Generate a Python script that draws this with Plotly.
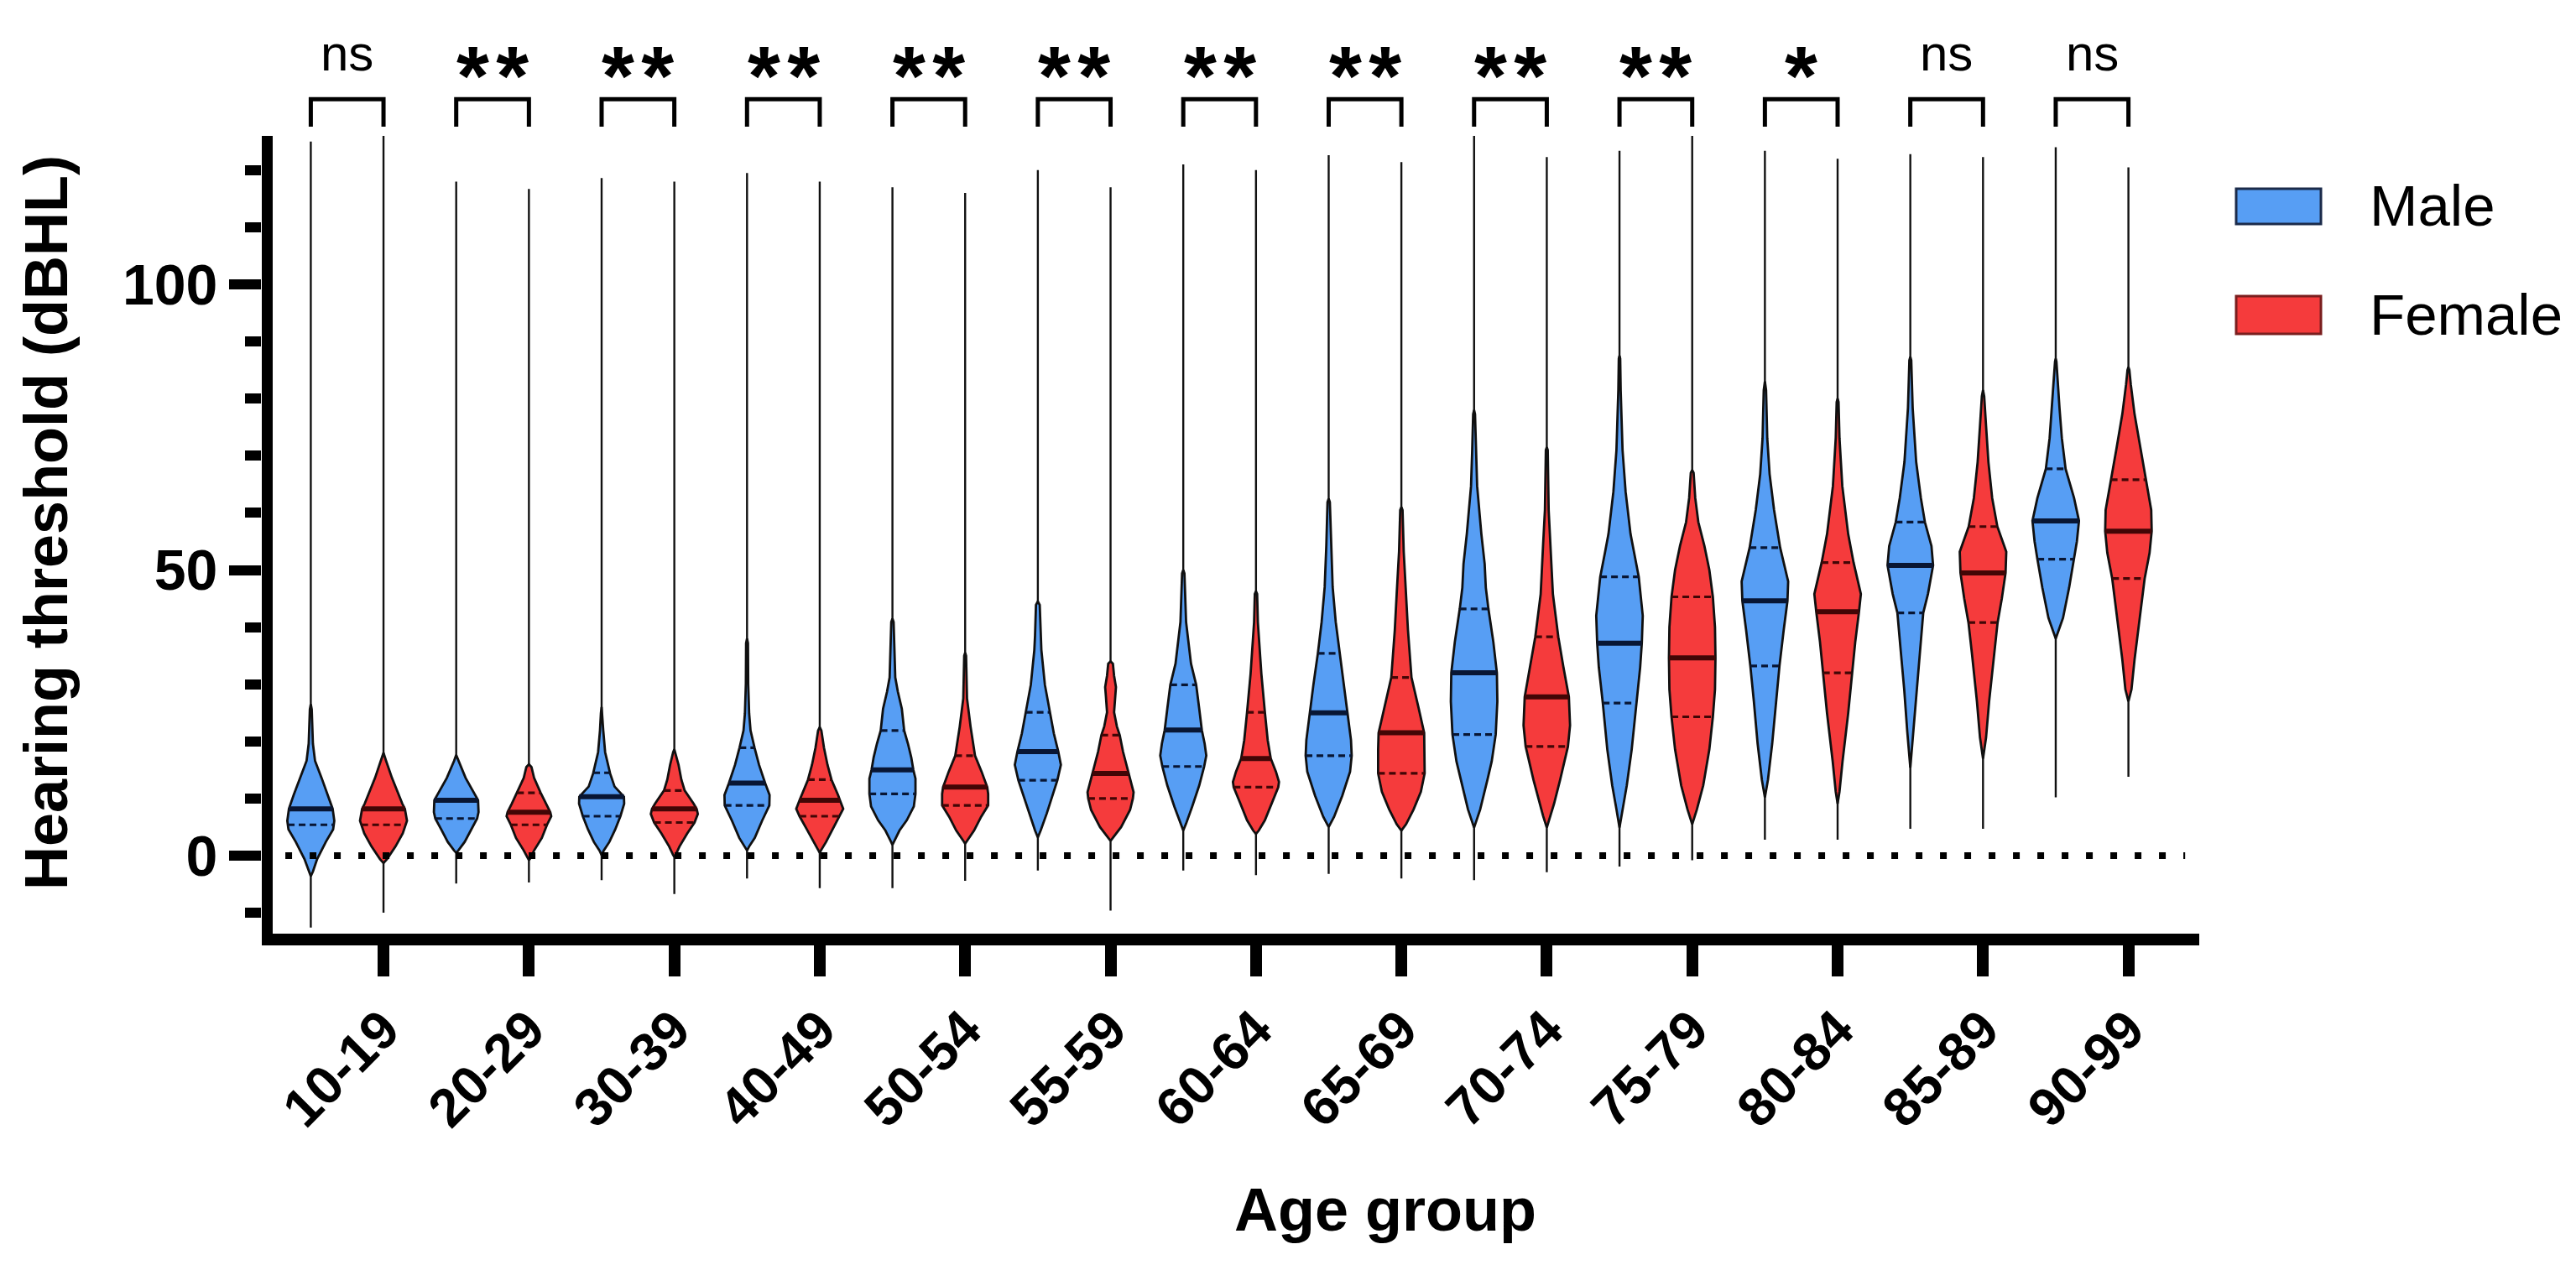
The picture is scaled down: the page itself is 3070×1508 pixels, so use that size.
import numpy as np
import plotly.graph_objects as go

# ---------------- data ----------------
age_groups = ["10-19", "20-29", "30-39", "40-49", "50-54", "55-59", "60-64",
              "65-69", "70-74", "75-79", "80-84", "85-89", "90-99"]
significance = ["ns", "**", "**", "**", "**", "**", "**", "**", "**", "**", "*", "ns", "ns"]

male_median = [8.2, 9.7, 10.3, 12.7, 15.0, 18.2, 22.0, 25.0, 32.0, 37.2, 44.6, 50.8, 58.6]
male_q1 = [5.4, 6.5, 6.9, 8.8, 10.8, 13.2, 15.6, 17.5, 21.2, 26.7, 33.2, 42.5, 51.9]
male_q3 = [8.2, 9.7, 14.5, 18.9, 21.9, 25.1, 29.9, 35.4, 43.2, 48.8, 53.9, 58.4, 67.7]
male_min = [-12.6, -4.9, -4.3, -4.0, -5.7, -2.6, -2.6, -3.2, -4.3, -1.9, 2.8, 4.7, 10.2]
male_max = [125.0, 118.0, 118.6, 119.5, 117.0, 120.0, 121.0, 122.6, 126.0, 123.4, 123.4, 122.8, 124.0]

female_median = [8.2, 7.6, 8.2, 9.7, 12.0, 14.4, 17.0, 21.5, 27.8, 34.6, 42.7, 49.5, 56.8]
female_q1 = [5.4, 5.4, 5.8, 6.9, 8.8, 10.0, 12.0, 14.4, 19.1, 24.3, 32.0, 40.8, 48.5]
female_q3 = [8.2, 11.0, 11.4, 13.3, 17.5, 21.1, 25.1, 31.2, 38.3, 45.3, 51.3, 57.6, 65.8]
female_min = [-10.0, -4.7, -6.7, -5.7, -4.4, -9.6, -3.4, -4.0, -2.9, -0.8, 2.8, 4.7, 13.8]
female_max = [126.0, 116.7, 118.0, 118.0, 116.0, 117.0, 120.0, 121.4, 122.3, 126.0, 122.0, 122.3, 120.5]

# violin outlines: threshold levels (dBHL) and relative density (1 = widest)
male_levels = [
    [-3.6, -2.8, -0.6, 2.4, 4.6, 6.1, 8.2, 10.6, 13.6, 16.6, 19.6, 25.6, 26.5],
    [0.5, 0.9, 2.4, 4.6, 6.5, 7.6, 9.7, 13.6, 16.6, 17.2, 17.6],
    [0.1, 0.9, 2.4, 4.6, 6.9, 9.1, 10.3, 12.1, 14.4, 18.1, 21.9, 25.0, 26.0],
    [0.9, 1.6, 3.1, 6.1, 8.8, 10.6, 12.7, 15.9, 18.9, 21.9, 24.9, 30.1, 37.2, 38.0],
    [1.9, 2.6, 4.4, 6.2, 8.6, 10.8, 13.5, 15.0, 17.2, 19.6, 21.9, 25.7, 28.7, 31.2, 40.9, 41.5],
    [3.2, 4.4, 7.4, 10.5, 13.2, 15.9, 18.2, 21.4, 25.1, 29.9, 36.0, 38.5, 43.9, 44.5],
    [4.4, 5.6, 8.6, 12.3, 15.6, 17.5, 19.6, 22.0, 25.7, 29.9, 33.6, 40.9, 49.4, 50.0],
    [5.0, 6.8, 10.5, 14.7, 17.5, 20.2, 25.0, 29.9, 35.4, 40.9, 47.0, 54.3, 61.9, 62.5],
    [4.9, 8.1, 13.3, 16.5, 21.2, 27.0, 32.0, 37.4, 43.2, 46.9, 51.1, 56.3, 64.7, 71.0, 77.3, 78.0],
    [4.9, 8.1, 12.3, 18.6, 26.7, 33.0, 37.2, 42.0, 48.8, 53.0, 56.3, 63.7, 71.0, 81.5, 87.0, 87.5],
    [10.2, 13.3, 19.6, 27.0, 33.2, 39.5, 44.6, 48.0, 53.9, 60.5, 66.8, 73.1, 81.5, 83.0],
    [15.4, 21.7, 29.1, 36.4, 42.5, 45.8, 50.8, 54.2, 58.4, 62.6, 68.9, 78.4, 86.7, 87.3],
    [38.0, 41.6, 46.9, 51.9, 55.0, 58.6, 62.6, 67.7, 73.1, 78.4, 83.6, 86.5, 87.0],
]
male_density = [
    [0, .09, .27, .64, .95, 1.0, .93, .73, .46, .18, .09, .04, 0],
    [0, .09, .36, .64, .89, .95, .93, .40, .09, .04, 0],
    [0, .09, .33, .58, .80, .96, .95, .55, .36, .15, .07, .03, 0],
    [0, .09, .33, .64, .95, .96, .77, .51, .32, .15, .09, .05, .04, 0],
    [0, .08, .30, .61, .91, .98, .98, .89, .80, .66, .50, .40, .23, .12, .05, 0],
    [0, .12, .38, .61, .83, .98, .87, .68, .51, .30, .15, .12, .08, 0],
    [0, .12, .38, .68, .89, .98, .91, .79, .68, .55, .33, .12, .05, 0],
    [0, .23, .58, .91, .98, .95, .80, .65, .46, .30, .17, .10, .05, 0],
    [0, .26, .57, .75, .92, .99, .97, .82, .61, .50, .45, .31, .13, .08, .04, 0],
    [0, .13, .31, .52, .71, .88, .95, .99, .82, .62, .47, .26, .13, .05, .03, 0],
    [0, .13, .31, .47, .62, .80, .96, .99, .65, .39, .20, .10, .05, 0],
    [0, .13, .26, .42, .55, .75, .97, .90, .62, .45, .25, .10, .04, 0],
    [0, .31, .57, .78, .90, .99, .78, .42, .26, .16, .08, .03, 0],
]

female_levels = [
    [-1.3, -0.6, 1.6, 3.9, 6.1, 8.2, 9.1, 13.6, 16.6, 17.4, 18.0],
    [-0.8, -0.6, 0.9, 3.1, 5.4, 6.9, 7.6, 9.1, 11.0, 13.6, 15.5, 16.0],
    [-0.2, 0.1, 1.6, 3.9, 5.8, 7.3, 8.2, 9.1, 11.4, 13.3, 15.9, 18.1, 18.6],
    [0.5, 0.9, 2.4, 4.6, 6.9, 8.2, 9.7, 10.6, 13.3, 15.9, 18.9, 21.9, 22.5],
    [2.1, 2.6, 4.4, 6.8, 8.8, 10.8, 12.0, 14.7, 17.5, 22.6, 27.5, 35.0, 35.5],
    [2.6, 3.2, 5.0, 8.0, 10.0, 11.1, 12.3, 14.4, 18.2, 21.1, 22.6, 25.1, 28.0, 29.5, 31.5, 33.6, 34.0],
    [3.8, 4.4, 6.2, 9.3, 12.0, 12.9, 14.7, 17.0, 20.2, 25.1, 31.8, 40.9, 45.8, 46.3],
    [4.4, 5.5, 8.1, 11.2, 14.4, 18.6, 21.5, 25.9, 31.2, 39.5, 45.8, 53.2, 60.5, 61.0],
    [4.9, 7.0, 9.1, 13.3, 19.1, 22.8, 27.8, 33.2, 38.3, 45.8, 54.2, 60.5, 71.0, 71.5],
    [5.5, 8.1, 12.3, 18.6, 24.3, 29.1, 34.6, 40.0, 45.3, 50.0, 54.2, 58.4, 62.6, 67.0, 67.5],
    [9.1, 11.2, 16.5, 24.9, 32.0, 37.4, 42.7, 45.8, 51.3, 56.3, 64.7, 73.1, 79.4, 80.0],
    [17.0, 20.7, 27.0, 35.3, 40.8, 45.0, 49.5, 53.2, 57.6, 62.6, 68.9, 75.2, 80.4, 81.5],
    [27.0, 29.1, 34.3, 41.6, 48.5, 53.0, 56.8, 60.5, 65.8, 71.0, 77.3, 82.5, 85.0, 85.5],
]
female_density = [
    [0, .15, .51, .82, 1.0, .91, .80, .36, .11, .05, 0],
    [0, .04, .22, .55, .77, .95, .91, .73, .50, .22, .11, 0],
    [0, .05, .22, .55, .86, 1.0, .95, .82, .44, .30, .18, .05, 0],
    [0, .05, .27, .55, .86, 1.0, .86, .78, .50, .33, .18, .07, 0],
    [0, .08, .38, .68, .98, .98, .94, .70, .42, .23, .08, .04, 0],
    [0, .12, .45, .83, .95, .98, .90, .77, .53, .39, .27, .15, .20, .23, .15, .10, 0],
    [0, .12, .38, .68, .95, .98, .85, .63, .50, .38, .23, .08, .05, 0],
    [0, .20, .52, .83, .99, .99, .97, .73, .43, .28, .20, .10, .05, 0],
    [0, .16, .31, .57, .90, .99, .94, .70, .49, .26, .16, .08, .04, 0],
    [0, .20, .47, .73, .88, .97, .99, .97, .88, .73, .52, .26, .13, .06, 0],
    [0, .08, .21, .45, .62, .75, .91, .99, .68, .45, .20, .08, .04, 0],
    [0, .13, .26, .47, .62, .80, .96, .99, .61, .39, .23, .13, .05, 0],
    [0, .13, .26, .47, .69, .90, .99, .97, .75, .52, .26, .10, .04, 0],
]

# ---------------- layout constants (pixels / styles) ----------------
W, H = 3070, 1508
L, R, T, B = 312, 2621, 33, 1113          # plot area in px
Y0_PX, Y_PER_UNIT = 1020, 6.81            # pixel row of 0 dB and px per dB
Y_RANGE = [-(B - Y0_PX) / Y_PER_UNIT, (Y0_PX - T) / Y_PER_UNIT]
X_RANGE = [-0.837, 12.487]
MALE_OFFSET = 0.5
HALF_W = 0.1616

BLUE, RED = "#579EF4", "#F53B3C"
BLUE_DARK, RED_DARK = "#081634", "#420606"
FONT = "Liberation Sans, Arial, sans-serif"


def px_x(px):
    return (px - L) / (R - L)


def px_y(py):
    return (B - py) / (B - T)


fig = go.Figure()

series = [
    ("Male", -MALE_OFFSET, male_levels, male_density, male_median, male_q1, male_q3,
     male_min, male_max, BLUE, BLUE_DARK),
    ("Female", 0.0, female_levels, female_density, female_median, female_q1, female_q3,
     female_min, female_max, RED, RED_DARK),
]

# full-range thin lines
for name, off, lv, dn, med, q1, q3, mn, mx, col, dark in series:
    tx, ty = [], []
    for i in range(len(age_groups)):
        c = i + off
        tx += [c, c, None]
        ty += [mn[i], mx[i], None]
    fig.add_trace(go.Scatter(x=tx, y=ty, mode="lines", line=dict(color="#111111", width=2.4),
                             hoverinfo="skip", showlegend=False))

# violin bodies
for name, off, lv, dn, med, q1, q3, mn, mx, col, dark in series:
    bx, by = [], []
    for i in range(len(age_groups)):
        c = i + off
        levels = list(lv[i])
        dens = np.array(dn[i])
        right = list(c + HALF_W * dens)
        left = list(c - HALF_W * dens)
        bx += right + left[::-1] + [None]
        by += levels + levels[::-1] + [None]
    fig.add_trace(go.Scatter(x=bx, y=by, mode="lines", fill="toself", fillcolor=col,
                             line=dict(color="#101010", width=2.8), name=name,
                             hoverinfo="skip", showlegend=False))

# quartile (dashed) and median (solid) lines
for name, off, lv, dn, med, q1, q3, mn, mx, col, dark in series:
    qx, qy, mxs, mys = [], [], [], []
    for i in range(len(age_groups)):
        c = i + off
        for q in (q1[i], q3[i]):
            w = HALF_W * np.interp(q, lv[i], dn[i])
            qx += [c - w, c + w, None]
            qy += [q, q, None]
        w = HALF_W * np.interp(med[i], lv[i], dn[i])
        mxs += [c - w, c + w, None]
        mys += [med[i], med[i], None]
    fig.add_trace(go.Scatter(x=qx, y=qy, mode="lines",
                             line=dict(color=dark, width=3.2, dash="8px,5px"),
                             hoverinfo="skip", showlegend=False))
    fig.add_trace(go.Scatter(x=mxs, y=mys, mode="lines", line=dict(color=dark, width=6),
                             hoverinfo="skip", showlegend=False))

shapes = []
# dotted zero reference line
shapes.append(dict(type="line", xref="x", yref="y", x0=-0.675, x1=12.39, y0=0, y1=0,
                   line=dict(color="black", width=8, dash="8px,21px"), layer="above"))
# y axis line
shapes.append(dict(type="line", xref="paper", yref="paper", x0=px_x(318.5), x1=px_x(318.5),
                   y0=px_y(1127), y1=px_y(162), line=dict(color="black", width=13)))
# significance brackets
annotations = []
for i, s in enumerate(significance):
    xm, xf = i - MALE_OFFSET, i
    shapes.append(dict(type="path", xref="x", yref="y",
                       path=f"M {xm},127.6 L {xm},132.4 L {xf},132.4 L {xf},127.6",
                       line=dict(color="black", width=5)))
    if s == "ns":
        annotations.append(dict(x=i - MALE_OFFSET / 2, y=140.5, xref="x", yref="y", text="ns",
                                showarrow=False, xanchor="center", yanchor="middle",
                                font=dict(family=FONT, size=60, color="black")))
    else:
        annotations.append(dict(x=i - MALE_OFFSET / 2, y=136.5, xref="x", yref="y",
                                text="\u200a".join(s), showarrow=False,
                                xanchor="center", yanchor="middle",
                                font=dict(family=FONT, size=100, color="black", weight="bold")))

# legend (drawn manually to match box sizes)
legend_items = [("Male", BLUE, "#1B2B4A", 225, 267), ("Female", RED, "#7A1E1E", 353, 398)]
for label, fc, lc, ytop, ybot in legend_items:
    shapes.append(dict(type="rect", xref="paper", yref="paper", x0=px_x(2665), x1=px_x(2766),
                       y0=px_y(ybot), y1=px_y(ytop), fillcolor=fc, line=dict(color=lc, width=3)))
    annotations.append(dict(x=px_x(2822), y=px_y((ytop + ybot) / 2), xref="paper", yref="paper",
                            text=label, showarrow=False, xanchor="left", yanchor="middle",
                            font=dict(family=FONT, size=69, color="black")))

# axis titles
annotations.append(dict(x=px_x(55), y=px_y(623), xref="paper", yref="paper",
                        text="Hearing threshold (dBHL)", textangle=-90, showarrow=False,
                        xanchor="center", yanchor="middle",
                        font=dict(family=FONT, size=72, color="black", weight="bold")))
annotations.append(dict(x=px_x(1651), y=px_y(1442), xref="paper", yref="paper",
                        text="Age group", showarrow=False, xanchor="center", yanchor="middle",
                        font=dict(family=FONT, size=72, color="black", weight="bold")))

fig.update_layout(
    width=W, height=H,
    margin=dict(l=L, r=W - R, t=T, b=H - B, pad=0),
    paper_bgcolor="white", plot_bgcolor="white",
    showlegend=False,
    shapes=shapes, annotations=annotations,
    xaxis=dict(range=X_RANGE, tickmode="array", tickvals=list(range(len(age_groups))),
               ticktext=age_groups, tickangle=-45, showgrid=False, zeroline=False,
               showline=True, linecolor="black", linewidth=14,
               ticks="outside", ticklen=37, tickwidth=14, tickcolor="black",
               tickfont=dict(family=FONT, size=64, color="black", weight="bold"),
               automargin=False),
    yaxis=dict(range=Y_RANGE, tickmode="array", tickvals=[0, 50, 100],
               showgrid=False, zeroline=False, showline=False,
               ticks="outside", ticklen=38, tickwidth=12, tickcolor="black",
               tickfont=dict(family=FONT, size=68, color="black", weight="bold"),
               minor=dict(tickmode="array",
                          tickvals=[-10, 10, 20, 30, 40, 60, 70, 80, 90, 110, 120],
                          ticks="outside", ticklen=19, tickwidth=12, tickcolor="black"),
               automargin=False),
)

fig.write_html("out.html", config={"displayModeBar": False},
               post_script="document.body.style.margin='0';document.body.style.overflow='hidden';")
